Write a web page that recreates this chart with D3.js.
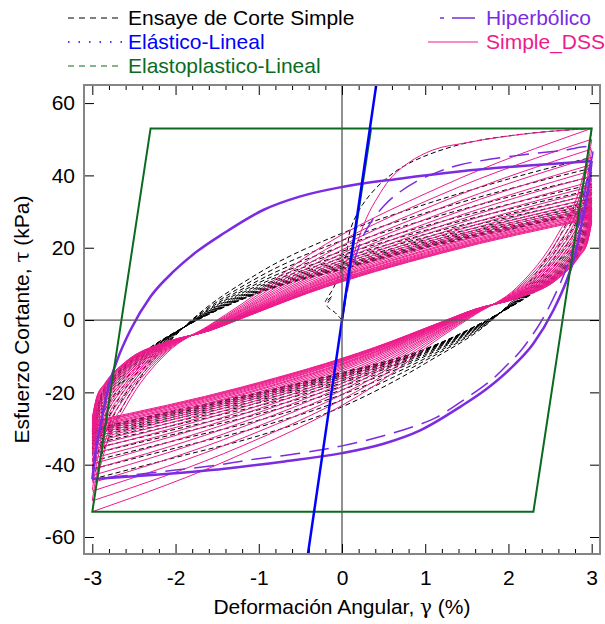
<!DOCTYPE html>
<html><head><meta charset="utf-8">
<script src="https://cdn.jsdelivr.net/npm/d3@7"></script>
<style>
body{margin:0;background:#fff}
svg{display:block}
text{font-family:"Liberation Sans",Arial,Helvetica,sans-serif}
</style>
</head><body>
<svg id="chart" width="605" height="624"></svg>
<script>
// ---------------- data ----------------
const xTicks = [-3,-2,-1,0,1,2,3];
const xMinorTicks = [-2.8,-2.6,-2.4,-2.2,-1.8,-1.6,-1.4,-1.2,-0.8,-0.6,-0.4,-0.2,0.2,0.4,0.6,0.8,1.2,1.4,1.6,1.8,2.2,2.4,2.6,2.8];
const yTicks = [-60,-40,-20,0,20,40,60];

// Elástico-Lineal
const elasticGamma = [-0.42, 0.42];
const elasticTau = [-66.4, 66.4];

// Elastoplastico-Lineal
const epGamma = [0, 0.35, 3, 2.3, -3, -2.3, 3];
const epTau = [0, 53, 53, -53, -53, 53, 53];

// Hiperbólico: first loading + first unloading (dashed)
const hypFirstGamma = [0,0.05,0.1,0.15,0.25,0.36,0.5,0.63,0.89,1.17,1.41,2.07,2.65,3,2.95,2.9,2.8,2.7,2.6,2.47,2.35,2.13,2.01,1.8,1.41,1.13,0.94,0.5,0,-0.5,-1.15,-1.47,-2,-2.5,-3];
const hypFirstTau = [0,6.5,12,16.5,23,27.5,31.5,34.3,38.3,41.1,42.9,45.4,46.9,47.5,40,33,22,14.5,9,2.8,-2,-9,-11.8,-16.5,-22.9,-27,-28.8,-32,-34.8,-36.8,-38.8,-40,-41.5,-42.8,-44];
// Hiperbólico: stabilised loop
const hypUpGamma = [-3,-2.95,-2.9,-2.8,-2.7,-2.54,-2.3,-2.02,-1.74,-1.42,-0.94,-0.5,0,0.69,1.41,2.2,2.89,3];
const hypUpTau = [-44,-35,-29,-18,-11,-2.7,6.5,13.5,19,24,30.5,34.2,36.8,39.1,41.1,42.7,43.8,44];
const hypDownGamma = [3,2.95,2.9,2.8,2.7,2.54,2.3,2.02,1.74,1.42,0.94,0.5,0,-0.69,-1.41,-2.2,-2.89,-3];
const hypDownTau = [44,35,29,18,11,2.7,-6.5,-13.5,-19,-24,-30.5,-34.2,-36.8,-39.1,-41.1,-42.7,-43.8,-44];

// Simple_DSS
const dssInitGamma = [0,0.05,0.11,0.2,0.3,0.43,0.57,0.8,1.09,1.49,2.29,3];
const dssInitTau = [0,7,15,22.5,28.5,34,38.8,43.5,47,49,51.7,53];
const dssUpGamma = [-3,-2.95,-2.85,-2.6,-2.1,-1.6,-1.2,-0.4,1.2,3];
const dssUp = [
[-53.0,-45.5,-36.0,-24.0,-9.0,-1.5,4.5,18.0,37.0,53.0],
[-49.9,-42.6,-33.8,-22.5,-8.6,-1.7,4.0,16.7,34.8,50.0],
[-47.0,-40.0,-31.7,-21.1,-8.3,-1.8,3.6,15.6,32.7,47.3],
[-44.7,-37.8,-30.1,-20.0,-8.0,-2.0,3.2,14.6,31.1,45.0],
[-42.6,-35.9,-28.6,-19.0,-7.8,-2.1,2.9,13.8,29.6,43.0],
[-40.8,-34.2,-27.3,-18.1,-7.6,-2.2,2.6,13.1,28.3,41.3],
[-39.2,-32.8,-26.2,-17.4,-7.4,-2.3,2.4,12.4,27.2,39.8],
[-37.7,-31.3,-25.1,-16.6,-7.2,-2.4,2.1,11.8,26.1,38.3],
[-36.4,-30.1,-24.2,-16.0,-7.1,-2.5,1.9,11.3,25.2,37.0],
[-35.1,-28.9,-23.2,-15.4,-6.9,-2.5,1.7,10.8,24.2,35.8],
[-34.0,-28.0,-22.5,-14.9,-6.8,-2.6,1.6,10.3,23.5,34.8],
[-33.0,-27.0,-21.8,-14.4,-6.7,-2.7,1.4,9.9,22.8,33.8],
[-32.2,-26.3,-21.2,-14.0,-6.6,-2.7,1.3,9.6,22.2,33.0],
[-31.4,-25.6,-20.7,-13.6,-6.5,-2.7,1.2,9.3,21.7,32.3],
[-30.8,-25.0,-20.2,-13.3,-6.4,-2.8,1.1,9.0,21.2,31.6],
[-30.1,-24.4,-19.7,-13.0,-6.4,-2.8,1.0,8.8,20.7,31.0],
[-29.6,-23.9,-19.4,-12.8,-6.3,-2.9,0.9,8.6,20.4,30.5],
[-29.1,-23.4,-19.0,-12.5,-6.2,-2.9,0.8,8.3,20.0,30.0],
[-28.7,-23.1,-18.7,-12.3,-6.2,-2.9,0.8,8.2,19.7,29.6],
[-28.3,-22.7,-18.4,-12.1,-6.2,-2.9,0.7,8.0,19.4,29.3],
[-27.9,-22.3,-18.1,-11.9,-6.1,-2.9,0.6,7.9,19.1,28.9],
[-27.5,-22.0,-17.9,-11.8,-6.1,-3.0,0.6,7.7,18.9,28.5],
[-27.3,-21.7,-17.7,-11.6,-6.0,-3.0,0.5,7.6,18.7,28.3],
[-27.0,-21.5,-17.5,-11.5,-6.0,-3.0,0.5,7.5,18.5,28.0]
];
const dssDownGamma = [3,2.95,2.85,2.6,2.1,1.6,1.2,0.4,-1.2,-3];
const dssDown = [
[53.0,45.5,36.0,24.0,9.0,1.5,-4.5,-18.0,-37.0,-53.0],
[49.9,42.6,33.8,22.5,8.6,1.7,-4.0,-16.7,-34.8,-50.0],
[47.0,40.0,31.7,21.1,8.3,1.8,-3.6,-15.6,-32.7,-47.3],
[44.7,37.8,30.1,20.0,8.0,2.0,-3.2,-14.6,-31.1,-45.0],
[42.6,35.9,28.6,19.0,7.8,2.1,-2.9,-13.8,-29.6,-43.0],
[40.8,34.2,27.3,18.1,7.6,2.2,-2.6,-13.1,-28.3,-41.3],
[39.2,32.8,26.2,17.4,7.4,2.3,-2.4,-12.4,-27.2,-39.8],
[37.7,31.3,25.1,16.6,7.2,2.4,-2.1,-11.8,-26.1,-38.3],
[36.4,30.1,24.2,16.0,7.1,2.5,-1.9,-11.3,-25.2,-37.0],
[35.1,28.9,23.2,15.4,6.9,2.5,-1.7,-10.8,-24.2,-35.8],
[34.0,28.0,22.5,14.9,6.8,2.6,-1.6,-10.3,-23.5,-34.8],
[33.0,27.0,21.8,14.4,6.7,2.7,-1.4,-9.9,-22.8,-33.8],
[32.2,26.3,21.2,14.0,6.6,2.7,-1.3,-9.6,-22.2,-33.0],
[31.4,25.6,20.7,13.6,6.5,2.7,-1.2,-9.3,-21.7,-32.3],
[30.8,25.0,20.2,13.3,6.4,2.8,-1.1,-9.0,-21.2,-31.6],
[30.1,24.4,19.7,13.0,6.4,2.8,-1.0,-8.8,-20.7,-31.0],
[29.6,23.9,19.4,12.8,6.3,2.9,-0.9,-8.6,-20.4,-30.5],
[29.1,23.4,19.0,12.5,6.2,2.9,-0.8,-8.3,-20.0,-30.0],
[28.7,23.1,18.7,12.3,6.2,2.9,-0.8,-8.2,-19.7,-29.6],
[28.3,22.7,18.4,12.1,6.2,2.9,-0.7,-8.0,-19.4,-29.3],
[27.9,22.3,18.1,11.9,6.1,2.9,-0.6,-7.9,-19.1,-28.9],
[27.5,22.0,17.9,11.8,6.1,3.0,-0.6,-7.7,-18.9,-28.5],
[27.3,21.7,17.7,11.6,6.0,3.0,-0.5,-7.6,-18.7,-28.3],
[27.0,21.5,17.5,11.5,6.0,3.0,-0.5,-7.5,-18.5,-28.0]
];

// Ensaye de Corte Simple (experimental)
const expInitGamma = [0,-0.08,-0.18,-0.12,-0.2,-0.1,0.05,0.1,0.25,0.5,0.81,1.41,2.2,3];
const expInitTau = [0,2,4,6.5,5,9,18,25,32,38.5,43.4,48.5,51.5,53];
const expUpGamma = [-3,-2.9,-2.7,-2.3,-1.9,-1.0,0,1.0,2.0,3];
const expUp = [
[-44.0,-38.0,-27.0,-12.0,-2.0,13.0,24.0,32.0,39.0,45.0],
[-41.2,-34.6,-24.5,-11.1,-2.0,11.9,22.0,29.6,36.2,42.0],
[-39.0,-31.9,-22.5,-10.4,-2.0,11.0,20.4,27.7,34.0,39.6],
[-37.0,-29.5,-20.8,-9.8,-2.0,10.3,19.0,26.0,32.0,37.5],
[-35.6,-27.8,-19.5,-9.3,-2.0,9.7,18.0,24.8,30.6,36.0],
[-34.3,-26.3,-18.4,-8.9,-2.0,9.2,17.1,23.7,29.3,34.7],
[-33.4,-25.1,-17.5,-8.6,-2.0,8.8,16.4,22.9,28.4,33.6],
[-32.5,-24.1,-16.8,-8.3,-2.0,8.5,15.8,22.2,27.5,32.7],
[-31.8,-23.2,-16.1,-8.1,-2.0,8.2,15.3,21.6,26.8,32.0],
[-31.3,-22.5,-15.6,-7.9,-2.0,8.0,14.9,21.1,26.3,31.4],
[-30.8,-22.0,-15.3,-7.8,-2.0,7.8,14.6,20.7,25.8,30.9],
[-30.5,-21.6,-14.9,-7.7,-2.0,7.7,14.4,20.4,25.5,30.5],
[-30.2,-21.3,-14.7,-7.6,-2.0,7.6,14.2,20.2,25.2,30.2],
[-30.0,-21.0,-14.5,-7.5,-2.0,7.5,14.0,20.0,25.0,30.0]
];
const expDownGamma = [3,2.9,2.7,2.3,1.9,1.0,0,-1.0,-2.0,-3];
const expDown = [
[53.0,38.0,27.0,12.0,2.0,-12.0,-24.0,-32.0,-38.0,-44.0],
[43.6,34.6,24.5,11.1,2.0,-11.2,-22.1,-29.6,-35.4,-41.2],
[40.9,31.9,22.5,10.4,2.0,-10.6,-20.6,-27.7,-33.3,-39.0],
[38.5,29.5,20.8,9.8,2.0,-10.0,-19.3,-26.0,-31.5,-37.0],
[36.8,27.8,19.5,9.3,2.0,-9.6,-18.3,-24.8,-30.2,-35.6],
[35.3,26.3,18.4,8.9,2.0,-9.2,-17.4,-23.7,-29.0,-34.3],
[34.1,25.1,17.5,8.6,2.0,-9.0,-16.8,-22.9,-28.1,-33.4],
[33.1,24.1,16.8,8.3,2.0,-8.7,-16.2,-22.2,-27.3,-32.5],
[32.2,23.2,16.1,8.1,2.0,-8.5,-15.7,-21.6,-26.7,-31.8],
[31.5,22.5,15.6,7.9,2.0,-8.4,-15.4,-21.1,-26.2,-31.3],
[31.0,22.0,15.3,7.8,2.0,-8.2,-15.1,-20.7,-25.8,-30.8],
[30.6,21.6,14.9,7.7,2.0,-8.1,-14.8,-20.4,-25.5,-30.5],
[30.3,21.3,14.7,7.6,2.0,-8.1,-14.6,-20.2,-25.2,-30.2],
[30.0,21.0,14.5,7.5,2.0,-8.0,-14.5,-20.0,-25.0,-30.0]
];

const legendLabels = ["Ensaye de Corte Simple","Elástico-Lineal","Elastoplastico-Lineal","Hiperbólico","Simple_DSS"];

// ---------------- styles ----------------
const C = {
  exp: "#000000",
  el: "#0000ff",
  ep: "#0a6b1e",
  hyp: "#7b2be2",
  dss: "#ee1a8c",
  frame: "#858585",
  zero: "#555555"
};
const FS = 21;

const plot = {left: 84, right: 600, top: 85, bottom: 554};
const x = d3.scaleLinear().domain([-3.1, 3.1]).range([plot.left, plot.right]);
const y = d3.scaleLinear().domain([-64.7, 65]).range([plot.bottom, plot.top]);

const svg = d3.select("#chart");
svg.append("defs").append("clipPath").attr("id","clip")
  .append("rect").attr("x",plot.left).attr("y",plot.top)
  .attr("width",plot.right-plot.left).attr("height",plot.bottom-plot.top);

const g = svg.append("g").attr("clip-path","url(#clip)");

const zip = (gs, ts) => gs.map((v,i)=>[v, ts[i]]);
const sortX = pts => pts.slice().sort((a,b)=>a[0]-b[0]);
const lineMono = d3.line().x(d=>x(d[0])).y(d=>y(d[1])).curve(d3.curveMonotoneX);
const lineCR = d3.line().x(d=>x(d[0])).y(d=>y(d[1])).curve(d3.curveCatmullRom.alpha(0.5));
const lineLin = d3.line().x(d=>x(d[0])).y(d=>y(d[1]));

// Experimental (black dashed)
const expG = g.append("g").attr("fill","none").attr("stroke",C.exp).attr("stroke-width",1).attr("stroke-dasharray","5,3");
expG.append("path").attr("d", lineCR(zip(expInitGamma, expInitTau)));
expUp.forEach(r => expG.append("path").attr("d", lineMono(sortX(zip(expUpGamma, r)))));
expDown.forEach(r => expG.append("path").attr("d", lineMono(sortX(zip(expDownGamma, r)))));

// Simple_DSS (pink)
const dssG = g.append("g").attr("fill","none").attr("stroke",C.dss).attr("stroke-width",1);
dssG.append("path").attr("d", lineMono(zip(dssInitGamma, dssInitTau)));
dssUp.forEach(r => dssG.append("path").attr("d", lineMono(sortX(zip(dssUpGamma, r)))));
dssDown.forEach(r => dssG.append("path").attr("d", lineMono(sortX(zip(dssDownGamma, r)))));

// Hiperbólico (purple)
g.append("path").attr("d", lineCR(zip(hypFirstGamma, hypFirstTau)))
  .attr("fill","none").attr("stroke",C.hyp).attr("stroke-width",1.5).attr("stroke-dasharray","20,9");
g.append("path").attr("d", lineMono(sortX(zip(hypUpGamma, hypUpTau))))
  .attr("fill","none").attr("stroke",C.hyp).attr("stroke-width",2.5);
g.append("path").attr("d", lineMono(sortX(zip(hypDownGamma, hypDownTau))))
  .attr("fill","none").attr("stroke",C.hyp).attr("stroke-width",2.5);

// Elastoplastico (green)
g.append("path").attr("d", lineLin(zip(epGamma, epTau)))
  .attr("fill","none").attr("stroke",C.ep).attr("stroke-width",2).attr("stroke-linejoin","miter");

// Elastico (blue)
g.append("path").attr("d", lineLin(zip(elasticGamma, elasticTau)))
  .attr("fill","none").attr("stroke",C.el).attr("stroke-width",2.5);

// zero axes
svg.append("line").attr("x1",plot.left).attr("x2",plot.right).attr("y1",y(0)).attr("y2",y(0))
  .attr("stroke",C.zero).attr("stroke-width",1.3);
svg.append("line").attr("x1",x(0)).attr("x2",x(0)).attr("y1",plot.top).attr("y2",plot.bottom)
  .attr("stroke",C.zero).attr("stroke-width",1.3);

// axes / ticks
const fmt = d => String(d);
function styleAxis(sel){
  sel.select(".domain").remove();
  sel.selectAll(".tick line").attr("stroke","#000").attr("stroke-width",1);
  sel.selectAll("text").attr("font-size",FS).attr("fill","#000")
     .attr("font-family",'"Liberation Sans",Arial,sans-serif');
}
svg.append("g").attr("transform",`translate(0,${plot.bottom})`)
  .call(d3.axisBottom(x).tickValues(xTicks).tickSize(-10).tickPadding(16).tickFormat(fmt)).call(styleAxis);
svg.append("g").attr("transform",`translate(0,${plot.bottom})`)
  .call(d3.axisBottom(x).tickValues(xMinorTicks).tickSize(-5).tickFormat("")).call(styleAxis);
svg.append("g").attr("transform",`translate(0,${plot.top})`)
  .call(d3.axisTop(x).tickValues(xTicks).tickSize(-10).tickFormat("")).call(styleAxis);
svg.append("g").attr("transform",`translate(0,${plot.top})`)
  .call(d3.axisTop(x).tickValues(xMinorTicks).tickSize(-5).tickFormat("")).call(styleAxis);
svg.append("g").attr("transform",`translate(${plot.left},0)`)
  .call(d3.axisLeft(y).tickValues(yTicks).tickSize(-10).tickPadding(9).tickFormat(fmt)).call(styleAxis);
svg.append("g").attr("transform",`translate(${plot.right},0)`)
  .call(d3.axisRight(y).tickValues(yTicks).tickSize(-10).tickFormat("")).call(styleAxis);

// frame
svg.append("rect").attr("x",plot.left).attr("y",plot.top)
  .attr("width",plot.right-plot.left).attr("height",plot.bottom-plot.top)
  .attr("fill","none").attr("stroke",C.frame).attr("stroke-width",2);

// axis titles
const xt = svg.append("text").attr("x",(x(-3)+x(3))/2).attr("y",614).attr("text-anchor","middle")
  .attr("font-size",FS).attr("fill","#000");
xt.append("tspan").text("Deformación Angular, ");
xt.append("tspan").attr("font-family",'"DejaVu Serif","Liberation Serif",serif').attr("font-size",FS-1).text("γ");
xt.append("tspan").text(" (%)");

const yt = svg.append("text").attr("transform",`translate(29,${(plot.top+plot.bottom)/2}) rotate(-90)`)
  .attr("text-anchor","middle").attr("font-size",FS).attr("fill","#000");
yt.append("tspan").text("Esfuerzo Cortante, ");
yt.append("tspan").attr("font-family",'"DejaVu Serif","Liberation Serif",serif').attr("font-size",FS-1).text("τ");
yt.append("tspan").text(" (kPa)");

// legend
const leg = svg.append("g");
const legItems = [
  {label: legendLabels[0], color: C.exp, x1: 68, x2: 122, y: 18, dash: "6,5", w: 1, tx: 128},
  {label: legendLabels[1], color: C.el,  x1: 68, x2: 122, y: 42, dash: "1.5,9", w: 1.3, tx: 128},
  {label: legendLabels[2], color: C.ep,  x1: 68, x2: 122, y: 66, dash: "6,5", w: 1, tx: 128},
  {label: legendLabels[3], color: C.hyp, x1: 440, x2: 476, y: 18, dash: "23,8", off: 19, w: 1.3, tx: 486},
  {label: legendLabels[4], color: C.dss, x1: 428, x2: 478, y: 42, dash: null, w: 1, tx: 486}
];
legItems.forEach(it => {
  const l = leg.append("line").attr("x1",it.x1).attr("x2",it.x2).attr("y1",it.y).attr("y2",it.y)
    .attr("stroke",it.color).attr("stroke-width",it.w);
  if (it.dash) l.attr("stroke-dasharray", it.dash);
  if (it.off) l.attr("stroke-dashoffset", it.off);
  leg.append("text").attr("x",it.tx).attr("y",it.y+7).attr("font-size",FS).attr("fill",it.color).text(it.label);
});
</script>
</body></html>
